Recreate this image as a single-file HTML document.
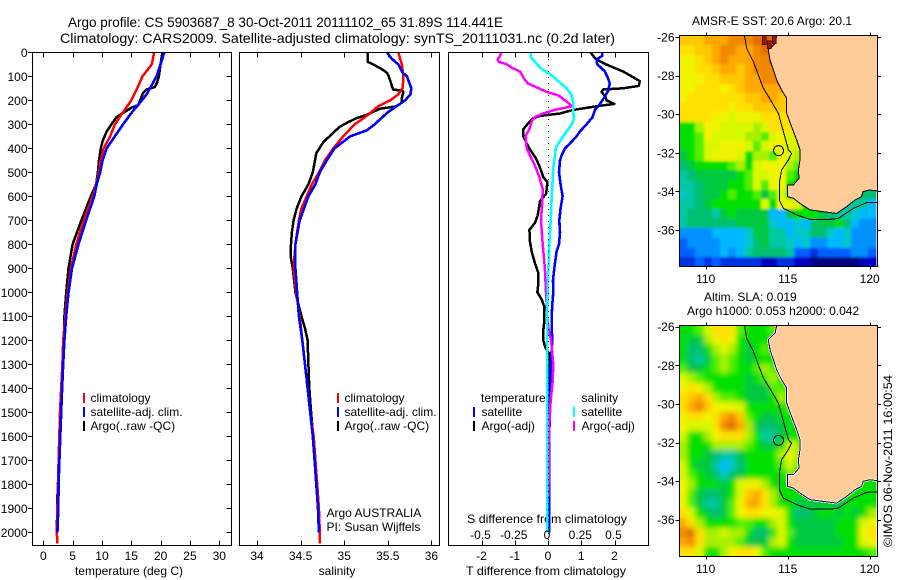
<!DOCTYPE html>
<html><head><meta charset="utf-8"><title>Argo profile</title>
<style>
html,body{margin:0;padding:0;background:#fff;width:900px;height:580px;overflow:hidden}
svg{display:block;font-family:"Liberation Sans",sans-serif;font-size:12px;fill:#000}
.c{shape-rendering:crispEdges}
</style></head><body>
<svg id="chart" width="900" height="580" viewBox="0 0 900 580">
<defs>
<filter id="soft-sst" x="-5%" y="-5%" width="110%" height="110%"><feGaussianBlur stdDeviation="1.4"/></filter>
<filter id="soft-sla" x="-5%" y="-5%" width="110%" height="110%"><feGaussianBlur stdDeviation="2.6"/></filter>
<clipPath id="clip-sst"><rect x="679.5" y="35.5" width="198" height="231"/></clipPath>
<clipPath id="clip-sla"><rect x="679.5" y="325.5" width="198" height="231"/></clipPath>
</defs>
<rect width="900" height="580" fill="#fff"/>
<text x="68" y="27" font-size="14" textLength="435" lengthAdjust="spacingAndGlyphs">Argo profile: CS 5903687_8 30-Oct-2011 20111102_65 31.89S 114.441E</text>
<text x="60" y="43" font-size="14" textLength="555" lengthAdjust="spacingAndGlyphs">Climatology: CARS2009. Satellite-adjusted climatology: synTS_20111031.nc (0.2d later)</text>
<text x="129" y="575" text-anchor="middle">temperature (deg C)</text>
<text x="337" y="575" text-anchor="middle">salinity</text>
<text x="546" y="575" text-anchor="middle" textLength="160" lengthAdjust="spacingAndGlyphs">T difference from climatology</text>
<text x="547" y="523" text-anchor="middle" textLength="160" lengthAdjust="spacingAndGlyphs">S difference from climatology</text>
<text x="692" y="25">AMSR-E SST: 20.6 Argo: 20.1</text>
<text x="704" y="301">Altim. SLA: 0.019</text>
<text x="687" y="315">Argo h1000: 0.053 h2000: 0.042</text>
<text transform="translate(892,547) rotate(-90)" textLength="172" lengthAdjust="spacingAndGlyphs">©IMOS 06-Nov-2011 16:00:54</text>
<g id="plots"></g>
<g>
<text x="90.5" y="402">climatology</text>
<text x="90.5" y="416">satellite-adj. clim.</text>
<text x="90.5" y="430">Argo(..raw -QC)</text>
<rect class="c" x="83" y="393" width="2" height="10" fill="#f00"/>
<rect class="c" x="83" y="407" width="2" height="10" fill="#00f"/>
<rect class="c" x="83" y="421" width="2" height="10" fill="#000"/>
</g>
<g>
<text x="344.5" y="402">climatology</text>
<text x="344.5" y="416">satellite-adj. clim.</text>
<text x="344.5" y="430">Argo(..raw -QC)</text>
<rect class="c" x="337" y="393" width="2" height="10" fill="#f00"/>
<rect class="c" x="337" y="407" width="2" height="10" fill="#00f"/>
<rect class="c" x="337" y="421" width="2" height="10" fill="#000"/>
<text x="326.5" y="517">Argo AUSTRALIA</text>
<text x="326.5" y="531">PI: Susan Wijffels</text>
</g>
<g>
<text x="481" y="402">temperature</text>
<text x="481.5" y="416">satellite</text>
<text x="481.5" y="430">Argo(-adj)</text>
<rect class="c" x="473" y="407" width="2" height="10" fill="#00f"/>
<rect class="c" x="473" y="421" width="2" height="10" fill="#000"/>
<text x="581.5" y="402">salinity</text>
<text x="581.5" y="416">satellite</text>
<text x="581.5" y="430">Argo(-adj)</text>
<rect class="c" x="573" y="407" width="2" height="10" fill="#0ff"/>
<rect class="c" x="573" y="421" width="2" height="10" fill="#f0f"/>
</g>
</svg>
<script>
// ---- tick data ----
var depthTicks=[0,100,200,300,400,500,600,700,800,900,1000,1100,1200,1300,1400,1500,1600,1700,1800,1900,2000];
var tempTicks=[0,5,10,15,20,25,30];
var salTicks=[34,34.5,35,35.5,36];
var tDiffTicks=[-2,-1,0,1,2];
var sDiffTicks=[-0.5,-0.25,0,0.25,0.5];
var lonTicks=[110,115,120];
var latTicks=[-26,-28,-30,-32,-34,-36];
// ---- temperature profiles ----
var tempClimDepths=[0,50,100,150,200,250,300,350,400,450,500,550,600,700,800,900,1000,1100,1200,1300,1500,1700,2000,2047];
var tempClimValues=[18.9,18.5,16.9,16.0,15.0,13.6,12.2,11.4,10.3,9.8,9.5,9.0,8.4,6.9,5.6,4.7,4.15,3.75,3.4,3.25,2.85,2.6,2.3,2.4];
var tempSatDepths=[0,50,100,150,175,200,250,300,350,400,450,500,550,600,700,800,900,1000,1100,1200,1300,1400,1500,1600,1700,1800,1900,2000];
var tempSatValues=[20.6,20,19.3,18.2,17.6,16.8,15.1,13.6,12.2,10.8,10.1,9.7,9.1,8.7,7.3,6,4.9,4.3,3.9,3.6,3.4,3.2,3.05,2.9,2.75,2.6,2.55,2.4];
var tempArgoDepths=[0,50,100,125,145,155,170,200,220,230,250,270,300,330,370,400,450,500,550,600,700,800,900,1000,1100,1200,1300,1850,2000];
var tempArgoValues=[20.3,20,19.7,19.4,19,17.6,17,16.5,16.2,15.1,13.75,12.5,11.6,10.8,10.1,9.8,9.5,9.3,9,8.1,6.5,5,4.3,3.9,3.6,3.5,3.4,2.4,2.3];
// ---- salinity profiles ----
var salClimDepths=[0,25,50,100,150,175,200,225,250,275,300,350,400,450,500,550,600,650,700,800,900,1000,1100,1200,1300,1400,1500,1600,1700,1800,1900,2000,2047];
var salClimValues=[35.62,35.64,35.66,35.68,35.67,35.62,35.53,35.39,35.31,35.22,35.12,34.99,34.875,34.78,34.71,34.63,34.57,34.51,34.48,34.44,34.42,34.45,34.49,34.52,34.55,34.58,34.61,34.65,34.67,34.69,34.71,34.72,34.72];
var salSatDepths=[0,25,50,85,100,150,175,200,225,250,300,325,350,400,450,500,550,600,650,700,800,900,1000,1100,1200,1300,1400,1500,1600,1700,1800,1900,2000];
var salSatValues=[35.49,35.54,35.62,35.67,35.72,35.77,35.76,35.7,35.6,35.5,35.35,35.26,35.07,34.89,34.8,34.72,34.67,34.59,34.54,34.49,34.44,34.44,34.46,34.48,34.52,34.55,34.58,34.61,34.64,34.66,34.68,34.70,34.71];
var salArgoDepths=[0,40,50,70,85,100,120,155,160,165,190,210,225,235,260,275,290,310,340,375,420,500,550,600,650,700,750,800,850,900,1000,1100,1150,1200,1300,1400,1500,1700,1800,2000];
var salArgoValues=[35.27,35.27,35.33,35.43,35.49,35.51,35.53,35.56,35.66,35.68,35.66,35.66,35.6,35.41,35.26,35.14,35.05,34.95,34.86,34.76,34.68,34.64,34.59,34.51,34.455,34.42,34.40,34.39,34.385,34.41,34.44,34.51,34.55,34.58,34.59,34.6,34.62,34.67,34.69,34.71];
// ---- difference profiles ----
var tDiffSatDepths=[0,15,30,50,60,80,110,130,160,190,220,240,270,300,330,350,380,400,430,450,500,550,600,650,700,750,800,830,900,950,1000,1050,1100,1150,1200,1300,1400,1500,1600,2000];
var tDiffSatValues=[1.64,1.63,1.46,1.48,1.56,1.71,1.81,1.86,1.81,1.68,1.54,1.41,1.34,1.16,0.96,0.86,0.66,0.51,0.41,0.36,0.33,0.38,0.44,0.38,0.34,0.36,0.33,0.26,0.19,0.15,0.16,0.13,0.11,0.11,0.13,0.08,0.06,0.05,0.04,0.04];
var tDiffArgoDepths=[0,15,30,45,60,80,100,120,140,150,155,165,185,200,215,225,240,255,265,275,300,320,350,380,410,440,480,520,540,570,590,620,680,710,740,790,830,880,920,960,1000,1030,1060,1120,1160,1200,1230,1260,1300,1500,2000];
var tDiffArgoValues=[1.28,1.36,1.46,1.66,1.91,2.26,2.51,2.76,2.73,2.26,1.66,1.61,1.73,1.76,1.99,1.46,0.76,0.36,-0.24,-0.44,-0.62,-0.74,-0.74,-0.64,-0.52,-0.37,-0.24,-0.14,-0.02,-0.04,-0.06,-0.24,-0.31,-0.39,-0.56,-0.54,-0.49,-0.39,-0.29,-0.29,-0.32,-0.19,-0.11,-0.11,-0.14,-0.14,-0.08,0.06,0.05,0.03,0.03];
var sDiffSatDepths=[0,20,40,70,90,120,150,180,210,250,280,300,330,370,400,430,480,550,600,700,800,900,1000,1100,2000];
var sDiffSatValues=[-0.13,-0.13,-0.098,-0.048,0.015,0.078,0.14,0.178,0.19,0.19,0.195,0.178,0.14,0.09,0.058,0.053,0.04,0.033,0.028,0.02,0.01,0.003,-0.003,-0.005,-0.005];
var sDiffArgoDepths=[0,15,30,40,50,65,80,110,130,150,165,180,210,225,240,255,270,285,320,350,400,430,470,520,570,620,700,800,900,1000,1100,1150,1200,1300,1370,1450,1550,1700,1850];
var sDiffArgoValues=[-0.35,-0.36,-0.38,-0.37,-0.31,-0.27,-0.21,-0.18,-0.15,-0.07,-0.01,0.08,0.15,0.18,0.05,-0.035,-0.1,-0.12,-0.14,-0.17,-0.16,-0.135,-0.1,-0.065,-0.04,-0.043,-0.053,-0.04,-0.023,-0.015,-0.005,0.003,0.023,0.04,0.035,0.02,0.01,0.005,0.003];
// ---- SST heatmap (colour level per cell) ----
var sstCells=[
[16,16,16,17,17,17,18,18,18,19,19,19,19],
[15,15,16,16,17,18,18,17,17,18,19,19,19],
[14,14,15,16,17,18,17,17,17,18,18,19,19],
[14,14,15,15,16,17,17,16,17,18,18,18,18,18],
[14,14,14,15,15,16,16,16,17,17,18,18,18,18],
[14,14,15,15,15,14,15,16,17,17,17,17,17,17],
[14,15,15,15,15,15,15,15,16,16,17,17,16,16],
[15,15,15,15,15,15,14,15,15,16,16,16,16,15,15],
[15,15,15,15,14,14,13,14,14,14,15,15,15,15,15],
[10,10,12,14,14,13,13,13,13,12,13,15,15,15,14,14],
[10,10,11,14,13,13,13,13,12,12,11,13,14,13,13,13],
[10,10,11,13,13,14,14,14,13,11,13,14,14,13,13,13],
[9,10,11,13,14,14,14,13,10,12,12,11,14,13,12,12],
[8,9,10,10,10,10,11,12,10,13,14,14,14,12,11,11],
[7,8,9,9,9,9,9,10,11,13,13,14,14,11,10,10],
[7,7,8,9,9,9,10,10,11,13,11,14,14,10,10,10],
[6,7,8,9,9,10,11,10,10,11,9,11,13,10,10,10,9,9,9,8,8,8,8,8],
[7,7,8,9,10,10,10,10,10,10,13,10,14,14,13,10,9,9,9,9,7,7,7,5],
[7,8,8,8,7,9,10,9,9,9,9,5,5,9,10,10,10,9,8,7,7,6,5,5],
[7,8,8,8,8,8,8,9,9,9,9,6,5,5,6,5,8,9,9,10,8,5,4,4],
[4,4,4,4,5,5,5,5,6,9,9,7,7,5,6,6,8,8,6,5,6,4,4,4],
[3,4,4,4,4,5,5,5,6,8,9,7,7,6,5,6,4,4,5,5,6,4,4,4],
[3,3,4,4,4,5,4,5,7,8,8,8,8,7,3,3,2,3,3,3,3,4,4,3],
[2,2,3,2,3,2,2,2,2,2,1,1,2,2,1,1,0,0,0,0,0,0,1,1]];
// ---- SLA heatmap (colour level per cell) ----
var slaCells=[
[10,10,11,13,15,15,15,11,10,10,10,11,11],
[10,9,9,12,14,15,14,10,10,10,10,10,10],
[10,8,8,10,12,13,12,10,9,10,11,10,10],
[10,8,7,9,11,12,11,10,9,10,10,10,10,10],
[11,9,9,10,11,12,11,10,10,11,12,11,10,10],
[13,12,11,10,10,10,10,10,9,10,11,12,10,10],
[14,15,14,12,10,10,10,10,9,9,9,11,11,10,10],
[15,16,17,15,12,11,11,10,9,9,9,10,12,10,10],
[15,17,18,16,14,14,14,13,10,10,10,10,10,11,10,10],
[14,15,15,14,15,17,18,16,11,10,9,9,10,10,10,10],
[14,13,13,13,15,18,19,17,12,9,8,8,9,10,10,10],
[13,10,10,12,14,15,15,15,12,10,7,7,9,10,10,10],
[12,10,10,10,12,12,12,12,11,10,9,9,10,13,12,10],
[12,10,10,9,8,7,7,9,10,10,10,10,12,14,12,10],
[13,10,9,9,7,5,6,8,10,10,10,10,11,13,11,10],
[13,11,10,9,8,6,8,9,10,10,10,10,10,11,10,10],
[14,12,10,10,10,9,10,13,14,14,12,10,10,10,10,10,10,10,10,10,10,10,10,10],
[14,11,9,8,8,9,10,13,16,17,15,12,10,10,10,10,10,10,10,10,10,10,10,10],
[14,11,9,7,7,9,11,14,17,17,15,12,10,10,9,9,9,9,9,9,10,10,10,10],
[15,13,10,9,8,9,11,14,15,15,14,14,13,10,8,8,9,10,10,9,10,9,10,12],
[17,15,12,10,10,10,10,11,11,10,10,12,13,10,9,9,9,9,9,10,10,10,13,14],
[18,19,15,12,12,13,12,12,10,8,8,10,13,11,9,9,9,9,9,10,10,10,14,15],
[17,18,15,12,12,12,12,11,9,9,9,12,13,10,9,9,9,9,9,9,10,10,13,14],
[15,15,13,10,10,12,14,15,15,14,11,10,10,10,10,10,10,10,10,10,10,10,10,11]];
// ---- geography (degrees) ----
var coastLons=[114.33,114.23,113.82,113.92,114.13,114.33,114.63,114.94,114.94,115.24,115.55,115.75,115.75,115.65,115.69,115.35,114.98,114.98,115.35,115.75,116.36,117.17,117.99,118.6,119.1,119.5,119.6,120.0,120.47];
var coastLats=[-25.91,-26.33,-26.67,-27.19,-27.71,-28.23,-28.75,-29.18,-29.96,-30.65,-31.34,-31.85,-32.37,-32.89,-33.32,-33.67,-33.67,-34.27,-34.36,-34.62,-34.96,-35.05,-35.14,-34.79,-34.45,-34.27,-34.01,-33.93,-33.98];
var isobathLons=[112.36,112.5,112.91,113.21,113.52,114.02,114.43,114.74,115.04,115.24,115.04,114.63,114.49,114.49,114.74,115.55,116.36,117.58,118.09,119.0,119.82,120.47];
var isobathLats=[-25.91,-26.59,-27.28,-27.97,-28.66,-29.35,-29.96,-30.9,-31.85,-32.03,-32.37,-32.89,-33.58,-34.45,-34.88,-35.22,-35.45,-35.45,-35.4,-34.88,-34.58,-34.57];
var argoLon=114.44;
var argoLat=-31.89;

var NS='http://www.w3.org/2000/svg';
var plots=document.getElementById('plots');
var levelColors=['#000080','#0000c0','#0030e0','#0060ff','#0090ff','#00b8ff','#00c8c8','#00c8a0','#00c070','#00c840','#00e000','#50f000','#a8f000','#d8f800','#f0f400','#ffe000','#ffc800','#ffa800','#f08800','#e07000'];

function mk(tag,attrs,parent){
  var e=document.createElementNS(NS,tag);
  for(var k in attrs){e.setAttribute(k,attrs[k]);}
  (parent||plots).appendChild(e);
  return e;
}
function depthY(d){return 52.3+d*0.24;}
function tempX(t){return 43.3+t*5.867;}
function salX(s){return 257+(s-34)*87.2;}
function tDiffX(t){return 548+t*33.25;}
function sDiffX(s){return 548+s*133;}
function lonX(l){return 705.7+(l-110)*16.4;}
function sstLatY(l){return 37+(-26-l)*19.3;}
function slaLatY(l){return 326.7+(-26-l)*19.3;}

function profile(depths,values,xf,color,name,width){
  var pts=[];
  for(var i=0;i<values.length;i++){pts.push(xf(values[i]).toFixed(1)+','+depthY(depths[i]).toFixed(1));}
  var el=mk('polyline',{points:pts.join(' '),fill:'none',stroke:color,'stroke-width':width,'stroke-linejoin':'round','class':'c'});
  
  
}
function panelFrame(x0,x1,name){
  var el=mk('rect',{x:x0,y:52.5,width:x1-x0,height:493,fill:'none',stroke:'#000','stroke-width':1,'class':'c'});
  
  
}
function xTicks(ticks,xf,yBase,labelY,inward,withTop,name){
  ticks.forEach(function(t){
    var x=Math.round(xf(t))+0.5;
    var tk=mk('line',{x1:x,x2:x,y1:yBase,y2:yBase-inward,stroke:'#000','class':'c'});
    
    
    if(withTop!==null){
      var tk2=mk('line',{x1:x,x2:x,y1:withTop,y2:withTop+inward,stroke:'#000','class':'c'});
      
      
    }
    var lb=mk('text',{x:xf(t),y:labelY,'text-anchor':'middle'});
    lb.textContent=String(t);
    
    
  });
}

// -- panel 1: temperature
profile(tempArgoDepths,tempArgoValues,tempX,'#000','temperature-argo-line',2.5);
profile(tempClimDepths,tempClimValues,tempX,'#f00','temperature-climatology-line',2.5);
profile(tempSatDepths,tempSatValues,tempX,'#00f','temperature-satellite-line',2.6);
panelFrame(32.5,231.5,'temperature-panel-frame');
xTicks(tempTicks,tempX,545.5,560,5,52.5,'temperature-axis');
depthTicks.forEach(function(d){
  var y=Math.round(depthY(d))+0.5;
  var a=mk('line',{x1:28,x2:32.5,y1:y,y2:y,stroke:'#000','class':'c'});
  
  
  var b=mk('line',{x1:226.5,x2:231.5,y1:y,y2:y,stroke:'#000','class':'c'});
  
  
  var t=mk('text',{x:27.5,y:depthY(d)+4.5,'text-anchor':'end'});
  t.textContent=String(d);
  
  
});
// -- panel 2: salinity
profile(salArgoDepths,salArgoValues,salX,'#000','salinity-argo-line',2.5);
profile(salClimDepths,salClimValues,salX,'#f00','salinity-climatology-line',2.5);
profile(salSatDepths,salSatValues,salX,'#00f','salinity-satellite-line',2.6);
panelFrame(239.5,439.5,'salinity-panel-frame');
xTicks(salTicks,salX,545.5,560,5,52.5,'salinity-axis');
// -- panel 3: differences
profile(tDiffArgoDepths,tDiffArgoValues,tDiffX,'#000','t-difference-argo-line',2.5);
profile(tDiffSatDepths,tDiffSatValues,tDiffX,'#00f','t-difference-satellite-line',2.6);
profile(sDiffArgoDepths,sDiffArgoValues,sDiffX,'#f0f','s-difference-argo-line',2.5);
profile(sDiffSatDepths,sDiffSatValues,sDiffX,'#0ff','s-difference-satellite-line',2.6);
var zero=mk('line',{x1:548.5,x2:548.5,y1:53,y2:545,stroke:'#000','stroke-dasharray':'1 5','class':'c'});


panelFrame(448.5,648.5,'difference-panel-frame');
xTicks(tDiffTicks,tDiffX,545.5,560,5,52.5,'t-difference-axis');
sDiffTicks.forEach(function(s){
  var lb=mk('text',{x:sDiffX(s)-1,y:539,'text-anchor':'middle'});
  lb.textContent=String(s);
  
  
});

// -- maps
function drawMap(cells,latY,top,bottom,name,whiteEdge,softId,clipId){
  var cw=8.2, ch=9.65, x0=lonX(108.37), y0=latY(-25.91);
  var holder=mk('g',{id:name+'-cells'});
  
  
  cells.forEach(function(row,r){
    row.forEach(function(v,c){
      var x1=Math.round(x0+c*cw), x2=Math.round(x0+(c+1)*cw);
      var y1=Math.round(y0+r*ch), y2=Math.round(y0+(r+1)*ch);
      var cell=mk('rect',{x:x1,y:y1,width:x2-x1,height:y2-y1,fill:levelColors[Math.max(0,Math.min(19,Math.round(v)))],'class':'c'},holder);
      
      
    });
  });
  // softened copy of the same cells, so the coarse grid reads as smooth blobs
  var clipper=mk('g',{'clip-path':'url(#'+clipId+')'});
  
  
  var soft=mk('use',{href:'#'+name+'-cells',filter:'url(#'+softId+')'},clipper);
  
  
  var coast=coastLons.map(function(l,i){return lonX(l).toFixed(1)+','+latY(coastLats[i]).toFixed(1);});
  var landPts=coast.concat([lonX(120.47).toFixed(1)+','+latY(-25.91).toFixed(1)]);
  var land=mk('polygon',{points:landPts.join(' '),fill:'#ffcc99','class':'c'});
  
  
  if(whiteEdge){
    var we=mk('polyline',{points:coast.join(' '),fill:'none',stroke:'#fff','stroke-width':2.5,'class':'c'});
    
    
  }
  var cl=mk('polyline',{points:coast.join(' '),fill:'none',stroke:'#000','stroke-width':1,'class':'c'});
  
  
  var isoPts=isobathLons.map(function(l,i){return lonX(l).toFixed(1)+','+latY(isobathLats[i]).toFixed(1);});
  var iso=mk('polyline',{points:isoPts.join(' '),fill:'none',stroke:'#000','stroke-width':1,'class':'c'});
  
  
  var mark=mk('circle',{cx:lonX(argoLon),cy:latY(argoLat),r:5,fill:'none',stroke:'#000','stroke-width':1,'class':'c'});
  
  
  var fr=mk('rect',{x:679.5,y:top,width:198,height:bottom-top,fill:'none',stroke:'#000','class':'c'});
  
  
  lonTicks.forEach(function(l){
    var x=Math.round(lonX(l))+0.5;
    var a=mk('line',{x1:x,x2:x,y1:top-3,y2:top,stroke:'#000','class':'c'});
    
    
    var b=mk('line',{x1:x,x2:x,y1:bottom,y2:bottom+3,stroke:'#000','class':'c'});
    
    
    var t=mk('text',{x:lonX(l),y:bottom+16.5,'text-anchor':'middle'});
    t.textContent=String(l);
    
    
  });
  latTicks.forEach(function(l){
    var y=Math.round(latY(l))+0.5;
    var a=mk('line',{x1:675.5,x2:679.5,y1:y,y2:y,stroke:'#000','class':'c'});
    
    
    var b=mk('line',{x1:877.5,x2:881,y1:y,y2:y,stroke:'#000','class':'c'});
    
    
    var t=mk('text',{x:674.5,y:latY(l)+4.5,'text-anchor':'end'});
    t.textContent=String(l);
    
    
  });
}
drawMap(sstCells,sstLatY,35.5,266.5,'sst-map',false,'soft-sst','clip-sst');
drawMap(slaCells,slaLatY,325.5,556.5,'sla-map',true,'soft-sla','clip-sla');

// islands at the top of the SST map
var islandLons=[113.45,113.75,114.05];
var islandLats=[-26.2,-26.4,-26.15];
islandLons.forEach(function(l,i){
  var isl=mk('rect',{x:lonX(l),y:sstLatY(islandLats[i])-4,width:4,height:8,fill:'#a01010',stroke:'#000','stroke-width':0.5,'class':'c'});
  
  
});
</script>
</body></html>
